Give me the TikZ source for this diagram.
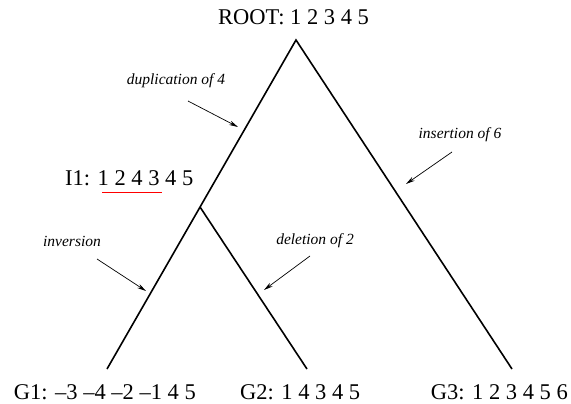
\documentclass[tikz,border=0pt]{standalone}
\usepackage{fontspec}
\setmainfont{Liberation Serif}
\usetikzlibrary{arrows.meta}
\begin{document}
\begin{tikzpicture}[x=1pt,y=-1pt,
  branch/.style={line width=1.6pt},
  pointer/.style={line width=0.7pt,-{Stealth[length=9pt,width=4.5pt]}},
  seq/.style={inner sep=0pt,font=\fontsize{22.5}{26}\selectfont},
  evt/.style={inner sep=0pt,font=\fontsize{15.5}{18}\selectfont\itshape}]
\useasboundingbox (0,0) rectangle (571,404);
% tree points
\coordinate (root) at (296,40);
\coordinate (i1) at (200,207);
\coordinate (g1) at (107,369);
\coordinate (g2) at (307,369);
\coordinate (g3) at (512,369);
\draw[branch] (g1) -- (root) -- (g3);
\draw[branch] (i1) -- (g2);
% sequence labels
\node[seq,anchor=base west] (rootlab) at (218,25) {ROOT: 1 2 3 4 5};
\node[seq,anchor=base west] (i1lab) at (65,185) {I1: 1 2 4 3 4 5};
\node[seq,anchor=base east] (g1lab) at (196,399.5) {G1: \textendash3 \textendash4 \textendash2 \textendash1 4 5};
\node[seq,anchor=base west] (g2lab) at (240,399.5) {G2: 1 4 3 4 5};
\node[seq,anchor=base east] (g3lab) at (568,399) {G3: 1 2 3 4 5 6};
\draw[red,line width=1.1pt] (102,192.5) -- (162,192.5);
% event labels
\node[evt] (dup) at (176,81) {duplication of 4};
\node[evt] (inv) at (72,241) {inversion};
\node[evt] (del) at (315,241) {deletion of 2};
\node[evt] (ins) at (460,135) {insertion of 6};
\coordinate (dups) at (188,101); \coordinate (dupe) at (238,127);
\coordinate (invs) at (97,259);  \coordinate (inve) at (146,291);
\coordinate (dels) at (310,256); \coordinate (dele) at (264,290);
\coordinate (inss) at (452,152); \coordinate (inse) at (406,184);
\draw[pointer] (dups) -- (dupe);
\draw[pointer] (invs) -- (inve);
\draw[pointer] (dels) -- (dele);
\draw[pointer] (inss) -- (inse);
\end{tikzpicture}
\end{document}
